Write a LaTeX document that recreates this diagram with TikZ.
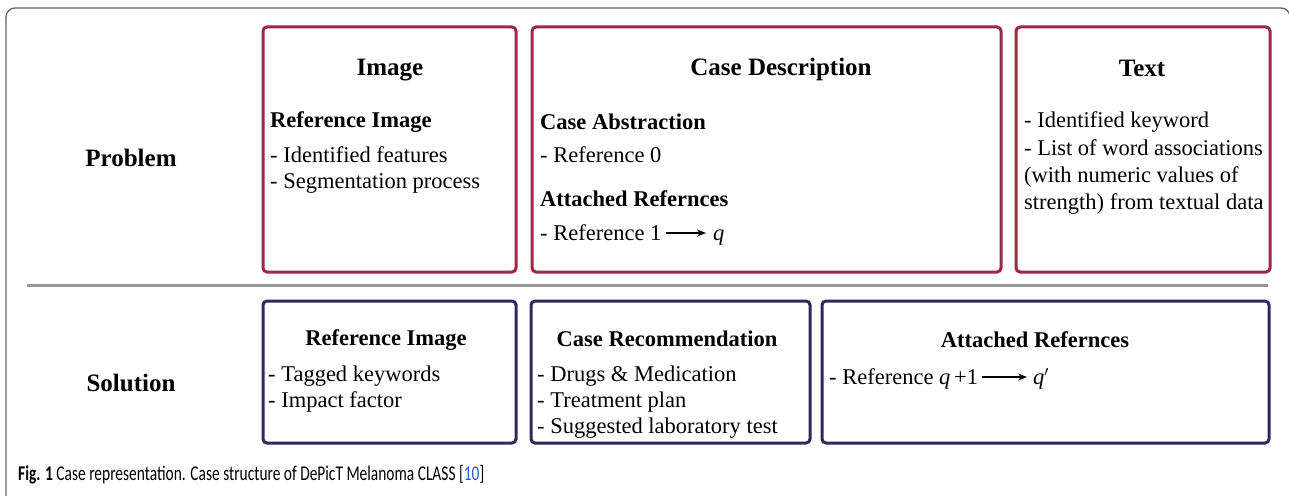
\documentclass[tikz,border=0pt]{standalone}
\usepackage{fontspec}
\setmainfont{Liberation Serif}
\newfontfamily\capfont[FakeStretch=0.735]{Carlito}
\usetikzlibrary{arrows.meta}
\definecolor{probred}{RGB}{155,40,66}
\definecolor{solnavy}{RGB}{46,40,92}
\definecolor{framegray}{RGB}{100,100,100}
\definecolor{divgray}{RGB}{150,150,150}
\definecolor{linkblue}{RGB}{40,90,200}
\tikzset{
  probbox/.style={draw=probred, line width=3pt, rounded corners=4pt, inner sep=0pt},
  solbox/.style={draw=solnavy, line width=3pt, rounded corners=4pt, inner sep=0pt},
  ttl/.style={font=\fontsize{25}{30}\selectfont\bfseries, anchor=base, inner sep=0pt},
  hdr/.style={font=\fontsize{22.5}{27}\selectfont\bfseries, anchor=base west, inner sep=0pt},
  body/.style={font=\fontsize{22.5}{27}\selectfont, anchor=base west, inner sep=0pt},
  rowlbl/.style={font=\fontsize{25}{30}\selectfont\bfseries, anchor=base, inner sep=0pt},
  arr/.style={-{Stealth[length=9pt,width=7pt]}, line width=1.5pt, black},
}
\begin{document}
\begin{tikzpicture}[x=1pt,y=-1pt]
\useasboundingbox (0,0) rectangle (1289,495);
\fill[white] (0,0) rectangle (1289,495);
% outer frame
\draw[framegray, line width=1.3pt, rounded corners=9pt] (6,520) -- (6,8) -- (1290,8) -- (1290,520);
% divider
\draw[divgray, line width=3pt] (27,285) -- (1268,285);
% row labels
\node[rowlbl] (lprob) at (131,166) {Problem};
\node[rowlbl] (lsol) at (131,391) {Solution};
% problem boxes
\node[probbox, minimum width=253pt, minimum height=245pt] (bimg) at (389.5,149.5) {};
\node[probbox, minimum width=469pt, minimum height=245pt] (bcase) at (766.5,149.5) {};
\node[probbox, minimum width=254pt, minimum height=245pt] (btext) at (1143,149.5) {};
% solution boxes
\node[solbox, minimum width=253pt, minimum height=142pt] (sref) at (389.5,372) {};
\node[solbox, minimum width=279pt, minimum height=142pt] (srec) at (670.5,372) {};
\node[solbox, minimum width=447pt, minimum height=142pt] (satt) at (1045.5,372) {};
% Image box
\node[ttl] (timg) at (390,75) {Image};
\node[hdr] (himg) at (270,127) {Reference Image};
\node[body] (i1) at (270,162) {- Identified features};
\node[body] (i2) at (270,188) {- Segmentation process};
% Case description box
\node[ttl] (tcase) at (781,75) {Case Description};
\node[hdr] (habs) at (540,129) {Case Abstraction};
\node[body] (c1) at (540,162) {- Reference 0};
\node[hdr] (hatt) at (540,206) {Attached Refernces};
\node[body] (r1) at (540,240) {- Reference 1};
\node[body] (q1) at (713,240) {\textit{q}};
\draw[arr] ([xshift=4pt,yshift=7pt]r1.base east) -- ([xshift=-7pt,yshift=7pt]q1.base west);
% Text box
\node[ttl] (ttext) at (1142,77) {Text};
\node[body] (t1) at (1024,127) {- Identified keyword};
\node[body] (t2) at (1024,155) {- List of word associations};
\node[body] (t3) at (1024,182) {(with numeric values of};
\node[body] (t4) at (1024,209) {strength) from textual data};
% Solution: reference image
\node[ttl, font=\fontsize{22.5}{27}\selectfont\bfseries] (tsref) at (386,345) {Reference Image};
\node[body] (s1) at (268,381) {- Tagged keywords};
\node[body] (s2) at (268,407) {- Impact factor};
% Solution: case recommendation
\node[ttl, font=\fontsize{22.5}{27}\selectfont\bfseries] (tsrec) at (667,346) {Case Recommendation};
\node[body] (m1) at (537,381) {- Drugs \& Medication};
\node[body] (m2) at (537,407) {- Treatment plan};
\node[body] (m3) at (537,433) {- Suggested laboratory test};
% Solution: attached references
\node[ttl, font=\fontsize{22.5}{27}\selectfont\bfseries] (tsatt) at (1035,347) {Attached Refernces};
\node[body] (r2) at (829,384) {- Reference \textit{q}\,+1};
\node[body] (q2) at (1033,384) {\textit{q}$'$};
\draw[arr] ([xshift=4pt,yshift=7pt]r2.base east) -- ([xshift=-6pt,yshift=7pt]q2.base west);
% caption
\node[anchor=base west, inner sep=0pt, font=\capfont\fontsize{21}{25}\selectfont] (cap) at (18,480)
  {\textbf{Fig. 1} Case representation. Case structure of DePicT Melanoma CLASS [\textcolor{linkblue}{10}]};
\end{tikzpicture}
\end{document}
